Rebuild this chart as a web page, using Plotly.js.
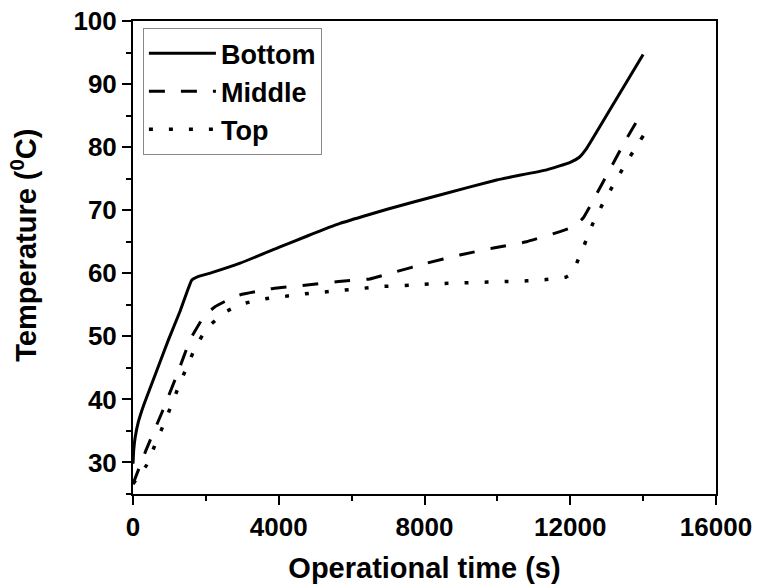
<!DOCTYPE html>
<html>
<head>
<meta charset="utf-8">
<script src="https://cdn.plot.ly/plotly-3.0.1.min.js"></script>
<style>html,body{margin:0;padding:0;background:#fff;}#chart{width:757px;height:588px;}</style>
</head>
<body>
<div id="chart"></div>
<script>
// Bottom sensor
const bottomTime = [0, 20, 60, 150, 300, 450, 700, 970, 1300, 1610, 1800, 2160, 2940, 4000, 4800, 5680, 6300, 7000, 7700, 8420, 9980, 11350, 12000, 12250, 12450, 13200, 14000];
const bottomTemp = [29.8, 32, 34, 36.5, 39.2, 41.5, 45.3, 49.4, 54.1, 58.9, 59.5, 60.1, 61.6, 64.1, 65.95, 67.9, 69.0, 70.2, 71.3, 72.4, 74.8, 76.4, 77.6, 78.4, 79.8, 87.0, 94.7];
// Middle sensor
const middleTime = [0, 375, 800, 1200, 1580, 1950, 2250, 2750, 2950, 3850, 4720, 5640, 6500, 7190, 8060, 8970, 9890, 10800, 11720, 12100, 12360, 12950, 13550, 14000];
const middleTemp = [26.6, 32.2, 38.0, 43.8, 49.6, 53.2, 54.7, 56.2, 56.6, 57.6, 58.1, 58.7, 59.1, 60.2, 61.6, 62.9, 64.0, 65.0, 66.6, 67.4, 68.8, 75.0, 81.4, 85.8];
// Top sensor
const topTime = [0, 375, 604, 832, 1034, 1244, 1474, 1702, 2003, 2506, 3040, 3576, 4125, 4657, 5195, 5744, 6285, 6806, 7575, 8124, 8653, 9202, 9724, 10256, 10805, 11335, 11884, 12050, 12177, 12386, 12606, 12890, 13182, 13503, 13824, 14005];
const topTemp = [26.6, 29.6, 32.8, 35.9, 38.8, 41.9, 45.1, 48.1, 51.1, 53.8, 55.2, 55.9, 56.3, 56.7, 57.0, 57.3, 57.6, 57.9, 58.1, 58.3, 58.4, 58.5, 58.6, 58.7, 58.8, 59.0, 59.4, 60.0, 61.6, 64.5, 67.7, 71.0, 74.0, 77.2, 80.2, 81.8];

const xTicks = [0, 4000, 8000, 12000, 16000];
const yTicks = [30, 40, 50, 60, 70, 80, 90, 100];

const FONT = 'Liberation Sans, Arial, sans-serif';

const traces = [
  {x: bottomTime, y: bottomTemp, name: 'Bottom', mode: 'lines', type: 'scatter',
   line: {color: '#000', width: 3, dash: 'solid', shape: 'spline', smoothing: 0.3}},
  {x: middleTime, y: middleTemp, name: 'Middle', mode: 'lines', type: 'scatter',
   line: {color: '#000', width: 3, dash: '16px,16px', shape: 'spline', smoothing: 0.3}},
  {x: topTime, y: topTemp, name: 'Top', mode: 'lines', type: 'scatter',
   line: {color: '#000', width: 3.5, dash: '4px,16px', shape: 'spline', smoothing: 0.3}}
];

const layout = {
  width: 757, height: 588,
  margin: {l: 133, r: 41, t: 21, b: 94, pad: 0},
  paper_bgcolor: '#fff', plot_bgcolor: '#fff',
  showlegend: true,
  font: {family: FONT, color: '#000'},
  xaxis: {
    range: [0, 16000], tickvals: xTicks, ticktext: xTicks.map(String),
    ticks: 'outside', ticklen: 9, tickwidth: 2, tickcolor: '#000',
    minor: {dtick: 2000, tick0: 0, ticks: 'outside', ticklen: 5, tickwidth: 2, tickcolor: '#000', showgrid: false},
    showline: true, linewidth: 2, linecolor: '#000', mirror: true,
    showgrid: false, zeroline: false,
    tickfont: {family: FONT, size: 26, weight: 700, color: '#000'},
    title: {text: 'Operational time (s)', font: {family: FONT, size: 29, weight: 700, color: '#000'}, standoff: 16}
  },
  yaxis: {
    range: [25, 100], tickvals: yTicks, ticktext: yTicks.map(String),
    ticks: 'outside', ticklen: 9, tickwidth: 2, tickcolor: '#000',
    minor: {dtick: 5, tick0: 0, ticks: 'outside', ticklen: 5, tickwidth: 2, tickcolor: '#000', showgrid: false},
    showline: true, linewidth: 2, linecolor: '#000', mirror: true,
    showgrid: false, zeroline: false,
    tickfont: {family: FONT, size: 26, weight: 700, color: '#000'},
    title: {text: ''}
  },
  annotations: [{
    text: 'Temperature (<sup>0</sup>C)', xref: 'paper', yref: 'paper',
    x: -0.187, y: 0.527, xanchor: 'center', yanchor: 'middle', textangle: -90,
    showarrow: false, font: {family: FONT, size: 29, weight: 700, color: '#000'}
  }],
  legend: {
    x: 0.017, y: 0.985, xanchor: 'left', yanchor: 'top',
    bgcolor: '#fff', bordercolor: '#888', borderwidth: 1,
    font: {family: FONT, size: 27, weight: 700, color: '#000'},
    itemwidth: 67, tracegroupgap: 0
  }
};

Plotly.newPlot('chart', traces, layout, {displayModeBar: false, staticPlot: true});
</script>
</body>
</html>
